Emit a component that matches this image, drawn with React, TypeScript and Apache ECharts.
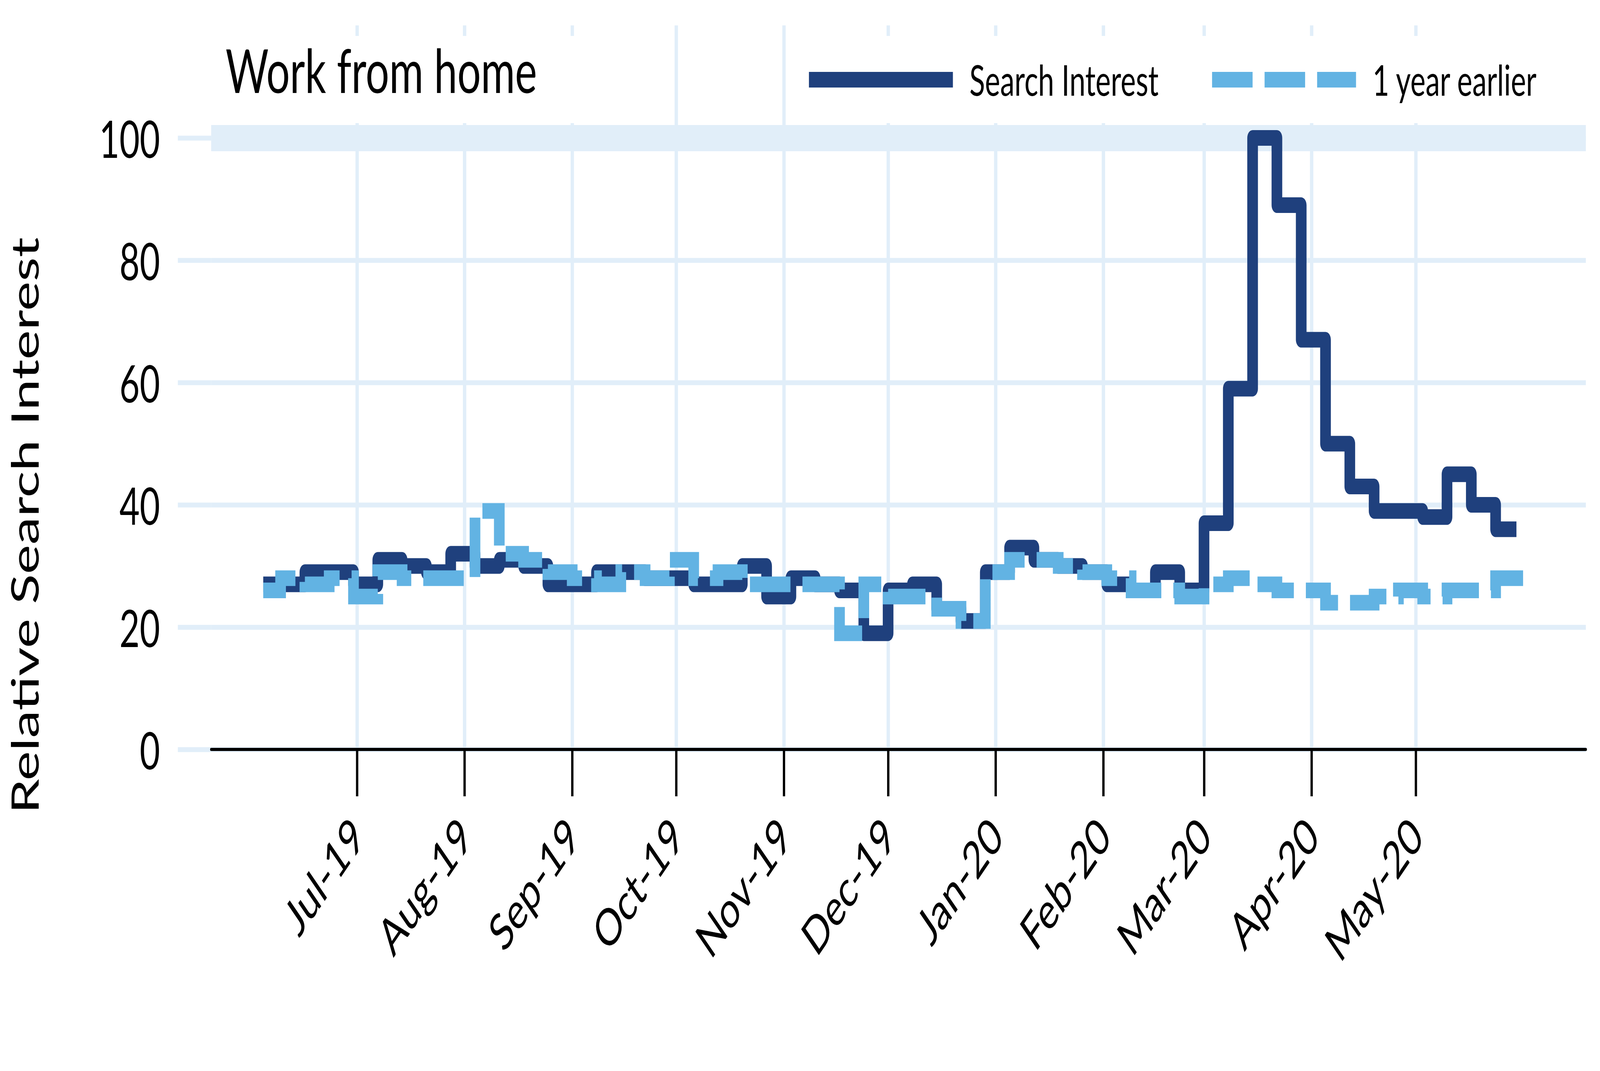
import React, { useEffect, useRef } from 'react';
import * as echarts from 'echarts';

const FONT = 'Lato';
const DARK = '#1F407D';
const LIGHT = '#62B3E3';
const GRID = '#E1EEF9';
const PAGE_W = 6001;
const PAGE_H = 2741;

const AXIS_FIRST_DAY = '2019-05-20';
const AXIS_LAST_DAY = '2020-06-19';

const monthTickDays = [
  '2019-07-01', '2019-08-01', '2019-09-01', '2019-10-01', '2019-11-01', '2019-12-01',
  '2020-01-01', '2020-02-01', '2020-03-01', '2020-04-01', '2020-05-01',
];
const monthTickLabels = [
  'Jul-19', 'Aug-19', 'Sep-19', 'Oct-19', 'Nov-19', 'Dec-19',
  'Jan-20', 'Feb-20', 'Mar-20', 'Apr-20', 'May-20',
];

const yTickValues = [0, 20, 40, 60, 80, 100];

const weekStarts = [
  '2019-06-04', '2019-06-09', '2019-06-16', '2019-06-23', '2019-06-30',
  '2019-07-07', '2019-07-14', '2019-07-21', '2019-07-28',
  '2019-08-04', '2019-08-11', '2019-08-18', '2019-08-25',
  '2019-09-01', '2019-09-08', '2019-09-15', '2019-09-22', '2019-09-29',
  '2019-10-06', '2019-10-13', '2019-10-20', '2019-10-27',
  '2019-11-03', '2019-11-10', '2019-11-17', '2019-11-24',
  '2019-12-01', '2019-12-08', '2019-12-15', '2019-12-22', '2019-12-29',
  '2020-01-05', '2020-01-12', '2020-01-19', '2020-01-26',
  '2020-02-02', '2020-02-09', '2020-02-16', '2020-02-23',
  '2020-03-01', '2020-03-08', '2020-03-15', '2020-03-22', '2020-03-29',
  '2020-04-05', '2020-04-12', '2020-04-19', '2020-04-26',
  '2020-05-03', '2020-05-10', '2020-05-17', '2020-05-24',
];

const searchInterest = [
  27, 27, 29, 29, 27,
  31, 30, 29, 32,
  30, 31, 30, 27,
  27, 29, 29, 28, 28,
  27, 27, 30, 25,
  28, 27, 26, 19,
  26, 27, 23, 21, 29,
  33, 31, 30, 29,
  27, 26, 29, 26,
  37, 59, 100, 89, 67,
  50, 43, 39, 39,
  38, 45, 40, 36,
];
const searchInterestEnd = '2020-05-30';

const oneYearEarlier = [
  26, 28, 27, 28, 25,
  29, 28, 28, 28,
  39, 32, 31, 29,
  28, 27, 29, 28, 31,
  28, 29, 27, 27,
  27, 27, 19, 27,
  25, 25, 23, 21, 29,
  31, 31, 30, 29,
  28, 26, 26, 25,
  27, 28, 27, 26, 26,
  24, 24, 25, 26,
  25, 26, 26, 28,
];
const oneYearEarlierEnd = '2020-06-02';

function listDays(first: string, last: string): string[] {
  const out: string[] = [];
  const d = new Date(first + 'T00:00:00Z');
  const end = new Date(last + 'T00:00:00Z');
  while (d.getTime() <= end.getTime()) {
    out.push(d.toISOString().slice(0, 10));
    d.setUTCDate(d.getUTCDate() + 1);
  }
  return out;
}

function stepPairs(values: number[], endDay: string): [string, number][] {
  const pairs: [string, number][] = weekStarts.map((d, i) => [d, values[i]] as [string, number]);
  pairs.push([endDay, values[values.length - 1]]);
  return pairs;
}

const isMonthTick = (_i: number, value: string) => monthTickDays.indexOf(value) >= 0;

export default function App() {
  const ref = useRef<HTMLDivElement>(null);

  useEffect(() => {
    document.documentElement.style.margin = '0';
    document.documentElement.style.overflow = 'hidden';
    document.body.style.margin = '0';
    document.body.style.overflow = 'hidden';
    if (!ref.current) return;

    const vw = document.documentElement.clientWidth || window.innerWidth || PAGE_W;
    const vh = document.documentElement.clientHeight || window.innerHeight || PAGE_H;
    const sx = vw / PAGE_W;
    const sy = vh / PAGE_H;
    ref.current.style.transformOrigin = '0 0';
    ref.current.style.transform = `scale(${sx}, ${sy})`;

    const chart = echarts.init(ref.current, undefined, { renderer: 'svg', width: PAGE_W, height: PAGE_H });
    const days = listDays(AXIS_FIRST_DAY, AXIS_LAST_DAY);

    const legendText = { fontFamily: FONT, fontSize: 108, color: '#000', lineHeight: 40, padding: [0, 0, 0, 57] };

    const option: any = {
      animation: false,
      backgroundColor: '#ffffff',
      textStyle: { fontFamily: FONT },
      title: {
        text: 'Work from home',
        left: 846,
        top: 92,
        padding: 0,
        z: 6,
        textStyle: { fontFamily: FONT, fontSize: 156, fontWeight: 'normal', color: '#000', lineHeight: 170 },
      },
      legend: [
        {
          data: [{ name: 'Search Interest', icon: 'rect' }],
          left: 3034,
          top: 150,
          padding: 0,
          itemGap: 0,
          itemWidth: 540,
          itemHeight: 40,
          selectedMode: false,
          z: 6,
          itemStyle: { borderWidth: 0 },
          textStyle: legendText,
        },
        {
          data: [{ name: '1 year earlier', icon: 'path://M0 0H152V40H0Z M197 0H349V40H197Z M394 0H540V40H394Z' }],
          left: 4546,
          top: 150,
          padding: 0,
          itemGap: 0,
          itemWidth: 540,
          itemHeight: 40,
          selectedMode: false,
          z: 6,
          itemStyle: { borderWidth: 0 },
          textStyle: legendText,
        },
      ],
      grid: { left: 792, right: 53, top: 65, bottom: 823, containLabel: false, outerBoundsMode: 'none' },
      xAxis: {
        type: 'category',
        data: days,
        boundaryGap: false,
        z: 1,
        axisLine: { show: true, lineStyle: { color: '#000', width: 8 } },
        axisTick: { show: true, inside: false, length: 120, interval: isMonthTick, lineStyle: { color: '#000', width: 8.7 } },
        axisLabel: {
          show: true,
          interval: isMonthTick,
          rotate: 45,
          margin: 195,
          fontFamily: FONT,
          fontSize: 131,
          color: '#000',
          formatter: (v: string) => {
            const k = monthTickDays.indexOf(v);
            return k >= 0 ? monthTickLabels[k] : '';
          },
        },
        splitLine: { show: true, interval: isMonthTick, lineStyle: { color: GRID, width: 12.6 } },
      },
      yAxis: {
        type: 'value',
        min: 0,
        max: 118.4,
        axisLine: { show: false },
        axisTick: { show: true, inside: false, length: 125, customValues: yTickValues, lineStyle: { color: GRID, width: 12.6 } },
        axisLabel: {
          show: true,
          customValues: yTickValues,
          margin: 192,
          fontFamily: FONT,
          fontSize: 131,
          color: '#000',
          formatter: (v: number) => (v % 20 === 0 ? String(v) : ''),
        },
        splitLine: { show: true, lineStyle: { color: GRID, width: 12.6 } },
      },
      graphic: [
        { type: 'rect', z: 3, silent: true, shape: { x: 800, y: 92, width: 1500, height: 223 }, style: { fill: '#ffffff' } },
        { type: 'rect', z: 3, silent: true, shape: { x: 3000, y: 92, width: 2900, height: 223 }, style: { fill: '#ffffff' } },
        {
          type: 'text',
          z: 6,
          x: 89,
          y: 1345,
          rotation: Math.PI / 2,
          silent: true,
          style: {
            text: 'Relative Search Interest',
            fontFamily: FONT,
            fontSize: 143,
            fill: '#000',
            align: 'center',
            verticalAlign: 'middle',
          },
        },
      ],
      series: [
        {
          name: 'band100',
          type: 'line',
          data: [],
          z: 1,
          silent: true,
          markLine: {
            z: 1,
            silent: true,
            symbol: ['none', 'none'],
            label: { show: false },
            emphasis: { disabled: true },
            lineStyle: { color: GRID, width: 67, type: 'solid', opacity: 1 },
            data: [{ yAxis: 100 }],
          },
        },
        {
          name: 'Search Interest',
          type: 'line',
          step: 'end',
          data: stepPairs(searchInterest, searchInterestEnd),
          color: DARK,
          itemStyle: { color: DARK },
          symbol: 'none',
          showSymbol: false,
          z: 4,
          silent: true,
          lineStyle: { color: DARK, width: 40, join: 'round', cap: 'butt' },
        },
        {
          name: '1 year earlier',
          type: 'line',
          step: 'end',
          data: stepPairs(oneYearEarlier, oneYearEarlierEnd),
          color: LIGHT,
          itemStyle: { color: LIGHT },
          symbol: 'none',
          showSymbol: false,
          z: 5,
          silent: true,
          lineStyle: { color: LIGHT, width: 40, type: [152, 45], join: 'miter', cap: 'butt' },
        },
      ],
    };

    chart.setOption(option);
    return () => chart.dispose();
  }, []);

  return (
    <div style={{ width: '100vw', height: '100vh', overflow: 'hidden', background: '#fff' }}>
      <div ref={ref} style={{ width: PAGE_W + 'px', height: PAGE_H + 'px' }} />
    </div>
  );
}
